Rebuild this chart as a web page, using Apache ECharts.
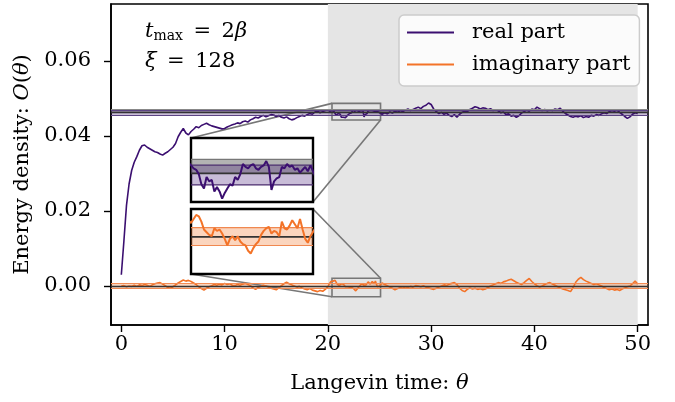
<!DOCTYPE html>
<html>
<head>
<meta charset="utf-8">
<script src="https://cdn.jsdelivr.net/npm/echarts@6.0.0/dist/echarts.min.js"></script>
<style>
  html, body { margin: 0; padding: 0; background: #fff; }
  #chart { width: 675px; height: 402px; }
</style>
</head>
<body>
<div id="chart"></div>
<script>
// Langevin time samples: coarse before 20, fine in the zoomed window, coarse after
var realHead = [
  0.0030, 0.0120, 0.0215, 0.0272, 0.0308, 0.0330, 0.0345, 0.0362, 0.0374, 0.0376,
  0.0370, 0.0366, 0.0362, 0.0358, 0.0356, 0.0352, 0.0349, 0.0354, 0.0358, 0.0364,
  0.0370, 0.0380, 0.0398, 0.0410, 0.0420, 0.0408, 0.0403, 0.0412, 0.0418, 0.0425,
  0.0422, 0.0428, 0.0431, 0.0434, 0.0430, 0.0427, 0.0425, 0.0423, 0.0421, 0.0419,
  0.0420, 0.0424, 0.0427, 0.0430, 0.0432, 0.0435, 0.0433, 0.0438, 0.0440, 0.0437,
  0.0443, 0.0446, 0.0450, 0.0448, 0.0452, 0.0455, 0.0451, 0.0454, 0.0457, 0.0456,
  0.0452, 0.0455, 0.0450, 0.0448, 0.0451, 0.0446, 0.0443, 0.0445, 0.0449, 0.0452,
  0.0455, 0.0453, 0.0457, 0.0460, 0.0458, 0.0464, 0.0466, 0.0462, 0.0465, 0.0468,
  0.0470
];
var realZoom = [
  0.0469, 0.0466, 0.0470, 0.0468, 0.0466, 0.0465, 0.0462, 0.0455, 0.0452, 0.0460,
  0.0457, 0.0458, 0.0450, 0.0453, 0.0450, 0.0445, 0.0449, 0.0452, 0.0455, 0.0454,
  0.0460, 0.0458, 0.0462, 0.0469, 0.0467, 0.0466, 0.0468, 0.0469, 0.0466, 0.0465,
  0.0467, 0.0468, 0.0471, 0.0467, 0.0451, 0.0457, 0.0459, 0.0460, 0.0467, 0.0466,
  0.0469, 0.0467, 0.0468, 0.0465, 0.0466, 0.0463, 0.0465, 0.0467, 0.0464, 0.0468
];
var realTail = [
  0.0458, 0.0462, 0.0459, 0.0464, 0.0461, 0.0466, 0.0463, 0.0468, 0.0465, 0.0469,
  0.0472, 0.0468, 0.0471, 0.0474, 0.0477, 0.0473, 0.0479, 0.0482, 0.0488, 0.0484,
  0.0472, 0.0465, 0.0460, 0.0463, 0.0458, 0.0461, 0.0455, 0.0452, 0.0457, 0.0450,
  0.0458, 0.0463, 0.0467, 0.0465, 0.0471, 0.0474, 0.0478, 0.0476, 0.0472, 0.0475,
  0.0474, 0.0470, 0.0473, 0.0468, 0.0470, 0.0467, 0.0462, 0.0464, 0.0457, 0.0459,
  0.0453, 0.0455, 0.0450, 0.0454, 0.0461, 0.0465, 0.0469, 0.0466, 0.0472, 0.0470,
  0.0477, 0.0473, 0.0468, 0.0471, 0.0467, 0.0470, 0.0468, 0.0472, 0.0470, 0.0474,
  0.0466, 0.0460, 0.0456, 0.0452, 0.0450, 0.0453, 0.0451, 0.0454, 0.0449, 0.0452,
  0.0450, 0.0455, 0.0453, 0.0457, 0.0455, 0.0459, 0.0462, 0.0460, 0.0465, 0.0468,
  0.0466, 0.0469, 0.0463, 0.0458, 0.0452, 0.0447, 0.0451, 0.0458, 0.0462, 0.0460
];

var imagHead = [
  0.0000, 0.0001, -0.0002, 0.0000, -0.0001, 0.0002, -0.0001, 0.0003, 0.0001, 0.0004,
  0.0002, -0.0001, 0.0003, 0.0006, 0.0008, 0.0009, 0.0005, 0.0001, -0.0004, -0.0006,
  -0.0002, 0.0003, 0.0008, 0.0012, 0.0016, 0.0013, 0.0015, 0.0012, 0.0008, 0.0004,
  -0.0002, -0.0007, -0.0011, -0.0006, -0.0002, 0.0001, 0.0004, 0.0002, 0.0005, 0.0003,
  0.0007, 0.0004, 0.0006, 0.0002, 0.0001, 0.0004, 0.0002, 0.0005, 0.0007, 0.0004,
  0.0001, -0.0005, -0.0009, -0.0004, -0.0001, 0.0002, 0.0000, -0.0003, -0.0006, -0.0008,
  -0.0010, -0.0005, 0.0001, 0.0006, 0.0010, 0.0006, 0.0003, 0.0000, -0.0003, -0.0001,
  -0.0005, -0.0008, -0.0010, -0.0007, -0.0011, -0.0013, -0.0015, -0.0012, -0.0014, -0.0009,
  -0.0002
];
var imagZoom = [
  0.0004, 0.0009, 0.0012, 0.0010, 0.0013, 0.0016, 0.0015, 0.0011, 0.0005, 0.0003,
  0.0001, 0.0000, 0.0006, 0.0004, 0.0005, 0.0002, -0.0002, -0.0007, -0.0002, 0.0000,
  -0.0003, 0.0000, -0.0004, -0.0006, -0.0007, -0.0011, -0.0013, -0.0009, -0.0006, -0.0004,
  0.0001, 0.0004, 0.0006, 0.0007, 0.0002, 0.0004, 0.0003, 0.0000, 0.0011, 0.0006,
  0.0005, 0.0008, 0.0012, 0.0009, 0.0006, 0.0013, 0.0005, -0.0002, -0.0005, 0.0000
];
var imagTail = [
  0.0008, 0.0004, 0.0001, -0.0003, -0.0006, -0.0010, -0.0007, -0.0004, -0.0006, -0.0002,
  -0.0004, -0.0001, -0.0003, 0.0001, 0.0000, -0.0002, 0.0001, -0.0003, -0.0005, -0.0007,
  -0.0009, -0.0006, -0.0003, 0.0000, 0.0003, 0.0001, 0.0005, 0.0007, 0.0009, 0.0004,
  -0.0006, -0.0012, -0.0015, -0.0009, -0.0005, -0.0008, -0.0006, -0.0009, -0.0007, -0.0010,
  -0.0008, -0.0004, 0.0000, 0.0003, 0.0006, 0.0009, 0.0007, 0.0011, 0.0013, 0.0016,
  0.0018, 0.0014, 0.0010, 0.0007, 0.0004, 0.0009, 0.0015, 0.0020, 0.0012, 0.0006,
  0.0001, -0.0003, 0.0000, 0.0004, 0.0007, 0.0009, 0.0005, 0.0002, -0.0002, -0.0005,
  -0.0008, -0.0010, -0.0012, -0.0015, -0.0004, 0.0010, 0.0018, 0.0023, 0.0017, 0.0013,
  0.0010, 0.0007, 0.0004, 0.0006, 0.0003, 0.0000, -0.0004, -0.0007, -0.0010, -0.0008,
  -0.0011, -0.0009, -0.0012, -0.0008, -0.0005, -0.0002, 0.0000, 0.0006, 0.0013, 0.0005
];

// estimates: mean line and error bands
var realMean = 0.04625;
var realBand = [0.04545, 0.04682];
var refBand = [0.04625, 0.04722];
var imagMean = -0.00005;
var imagBand = [-0.0007, 0.00065];

// zoom windows of the two insets
var zoomT = [20.4, 25.1];
var realWin = [0.04427, 0.0487];
var imagWin = [-0.00285, 0.00205];
var thermSpan = [20, 50];

var xTicks = [0, 10, 20, 30, 40, 50];
var yTicks = [0, 0.02, 0.04, 0.06];

var purple = '#3b0f70';
var orange = '#f37328';
var FONT = 'DejaVu Serif';
var FS = 21;

function pairs(start, step, vals) {
  return vals.map(function (v, i) { return [+(start + i * step).toFixed(2), v]; });
}
var realData = pairs(0, 0.25, realHead).concat(pairs(20.1, 0.1, realZoom), pairs(25.25, 0.25, realTail));
var imagData = pairs(0, 0.25, imagHead).concat(pairs(20.1, 0.1, imagZoom), pairs(25.25, 0.25, imagTail));

var chart = echarts.init(document.getElementById('chart'));

// horizontal band + edge lines, drawn on an empty series of the main grid
function bands(lo, hi, fill, edge) {
  return {
    type: 'line', name: 'band', data: [], z: 2, silent: true,
    markArea: { silent: true, itemStyle: { color: fill }, label: { show: false },
      data: [[{ yAxis: lo }, { yAxis: hi }]] },
    markLine: { silent: true, precision: 6, symbol: ['none', 'none'], label: { show: false },
      lineStyle: { type: 'solid', color: edge, width: 1.2 },
      data: [{ yAxis: lo }, { yAxis: hi }] }
  };
}
// horizontal level across an inset window, optionally filled down to `origin`
function level(gi, v, color, width, fill, origin, z) {
  var s = {
    type: 'line', name: 'level', xAxisIndex: gi, yAxisIndex: gi, z: z, silent: true, clip: true,
    data: [[zoomT[0], v], [zoomT[1], v]], symbol: 'none', showSymbol: false,
    lineStyle: { color: color, width: width }
  };
  if (fill) s.areaStyle = { color: fill, origin: origin, opacity: 1 };
  return s;
}

var axisFont = { fontFamily: FONT, fontSize: FS, color: '#000' };
var italFont = { fontFamily: FONT, fontSize: FS, fontStyle: 'italic', color: '#000' };

var option = {
  animation: false,
  grid: [
    { left: 111, top: 4, width: 537, height: 321, show: true, borderColor: '#000', borderWidth: 1.6 },
    { left: 191, top: 138, width: 122, height: 64, show: true, borderColor: '#000', borderWidth: 2.4, backgroundColor: '#fff', z: 5 },
    { left: 191, top: 209, width: 122, height: 65, show: true, borderColor: '#000', borderWidth: 2.4, backgroundColor: '#fff', z: 5 }
  ],
  legend: {
    data: ['real part', 'imaginary part'],
    orient: 'vertical', left: 399, top: 15,
    icon: 'rect', itemWidth: 47, itemHeight: 2, itemGap: 11,
    padding: [7, 9, 11, 8],
    backgroundColor: 'rgba(255,255,255,0.85)', borderColor: '#ccc', borderWidth: 1.5, borderRadius: 5,
    textStyle: { fontFamily: FONT, fontSize: FS, color: '#000', lineHeight: 21, padding: [0, 0, 0, 13] }
  },
  xAxis: [
    {
      type: 'value', gridIndex: 0, min: -1, max: 51,
      name: '{r|Langevin time: }{i|θ}', nameLocation: 'middle', nameGap: 48,
      nameTextStyle: { rich: { r: axisFont, i: italFont } },
      axisLine: { show: true, onZero: false, lineStyle: { color: '#000', width: 1.6 } },
      axisTick: { show: true, length: 7, customValues: xTicks, lineStyle: { color: '#000', width: 1.4 } },
      axisLabel: { customValues: xTicks, fontFamily: FONT, fontSize: FS, color: '#000', padding: [1, 0, 0, 0] },
      splitLine: { show: false }
    },
    { type: 'value', gridIndex: 1, min: zoomT[0], max: zoomT[1], show: false },
    { type: 'value', gridIndex: 2, min: zoomT[0], max: zoomT[1], show: false }
  ],
  yAxis: [
    {
      type: 'value', gridIndex: 0, min: -0.0104, max: 0.0752,
      name: '{r|Energy density: }{i|O}{r|(}{i|θ}{r|)}', nameLocation: 'middle', nameGap: 74, nameRotate: 90,
      nameTextStyle: { rich: { r: axisFont, i: italFont } },
      axisLine: { show: true, onZero: false, lineStyle: { color: '#000', width: 1.6 } },
      axisTick: { show: true, length: 7, customValues: yTicks, lineStyle: { color: '#000', width: 1.4 } },
      axisLabel: { customValues: yTicks, fontFamily: FONT, fontSize: FS, color: '#000', padding: [0, 12, 0, 0],
        formatter: function (v) { return v.toFixed(2); } },
      splitLine: { show: false }
    },
    { type: 'value', gridIndex: 1, min: realWin[0], max: realWin[1], show: false },
    { type: 'value', gridIndex: 2, min: imagWin[0], max: imagWin[1], show: false }
  ],
  series: [
    // thermalised region
    {
      type: 'line', name: 'span', data: [], z: 1, silent: true,
      markArea: { silent: true, itemStyle: { color: '#e5e5e5' }, label: { show: false },
        data: [[{ xAxis: thermSpan[0] }, { xAxis: thermSpan[1] }]] }
    },
    bands(refBand[0], refBand[1], 'rgba(128,128,128,0.6)', '#888'),
    bands(realBand[0], realBand[1], 'rgba(59,15,112,0.28)', '#5b4382'),
    bands(imagBand[0], imagBand[1], 'rgba(243,115,40,0.3)', '#f28c55'),
    {
      type: 'line', name: 'mean', data: [], z: 3, silent: true,
      markLine: { silent: true, precision: 6, symbol: ['none', 'none'], label: { show: false },
        lineStyle: { type: 'solid', color: '#333', width: 1.4 },
        data: [{ yAxis: realMean }, { yAxis: imagMean }] }
    },
    {
      type: 'line', name: 'real part', data: realData, z: 4,
      showSymbol: false, symbol: 'none', color: purple, lineStyle: { width: 1.6, color: purple }
    },
    {
      type: 'line', name: 'imaginary part', data: imagData, z: 4,
      showSymbol: false, symbol: 'none', color: orange, lineStyle: { width: 1.6, color: orange }
    },
    // zoom rectangles
    {
      type: 'line', name: 'zoomrect', data: [], z: 5, silent: true,
      markArea: { silent: true, label: { show: false },
        itemStyle: { color: 'rgba(0,0,0,0)', borderColor: '#777', borderWidth: 1.6 },
        data: [
          [{ xAxis: zoomT[0], yAxis: realWin[0] }, { xAxis: zoomT[1], yAxis: realWin[1] }],
          [{ xAxis: zoomT[0], yAxis: imagWin[0] }, { xAxis: zoomT[1], yAxis: imagWin[1] }]
        ] }
    },
    // inset 1: real part
    level(1, refBand[1], '#777', 1.2, 'rgba(128,128,128,0.6)', refBand[0], 6),
    level(1, realBand[1], '#4b2d6e', 1.2, 'rgba(59,15,112,0.28)', realBand[0], 6),
    level(1, realBand[0], '#4b2d6e', 1.2, null, 0, 7),
    level(1, realMean, '#333', 1.6, null, 0, 7),
    {
      type: 'line', name: 'real part', data: realData, xAxisIndex: 1, yAxisIndex: 1, z: 8, clip: true,
      showSymbol: false, symbol: 'none', color: purple, lineStyle: { width: 2, color: purple }
    },
    // inset 2: imaginary part
    level(2, imagBand[1], '#f08850', 1.2, 'rgba(243,115,40,0.3)', imagBand[0], 6),
    level(2, imagBand[0], '#f08850', 1.2, null, 0, 7),
    level(2, imagMean, '#333', 1.6, null, 0, 7),
    {
      type: 'line', name: 'imaginary part', data: imagData, xAxisIndex: 2, yAxisIndex: 2, z: 8, clip: true,
      showSymbol: false, symbol: 'none', color: orange, lineStyle: { width: 2, color: orange }
    }
  ]
};
chart.setOption(option);

// connectors from zoom rectangles to inset corners
function px(gi, x, y) { return chart.convertToPixel({ gridIndex: gi }, [x, y]); }
function connector(a, b) {
  return { type: 'line', z: 3, silent: true,
    shape: { x1: a[0], y1: a[1], x2: b[0], y2: b[1] },
    style: { stroke: '#777', lineWidth: 1.6 } };
}
var txtRich = {
  i: { fontFamily: FONT, fontSize: 21, fontStyle: 'italic', fill: '#000' },
  r: { fontFamily: FONT, fontSize: 21, fill: '#000' },
  s: { fontFamily: FONT, fontSize: 14, fill: '#000', padding: [9, 0, 0, 0] }
};
chart.setOption({
  graphic: [
    connector(px(0, zoomT[0], realWin[1]), px(1, zoomT[0], realWin[1])),
    connector(px(0, zoomT[1], realWin[0]), px(1, zoomT[1], realWin[0])),
    connector(px(0, zoomT[1], imagWin[1]), px(2, zoomT[1], imagWin[1])),
    connector(px(0, zoomT[0], imagWin[0]), px(2, zoomT[0], imagWin[0])),
    { type: 'text', left: 145, top: 21, z: 10,
      style: { text: '{i|t}{s|max}{r|\u2002=\u20022}{i|β}', rich: txtRich } },
    { type: 'text', left: 145, top: 51, z: 10,
      style: { text: '{i|ξ}{r|\u2002=\u2002128}', rich: txtRich } }
  ]
});
</script>
</body>
</html>
